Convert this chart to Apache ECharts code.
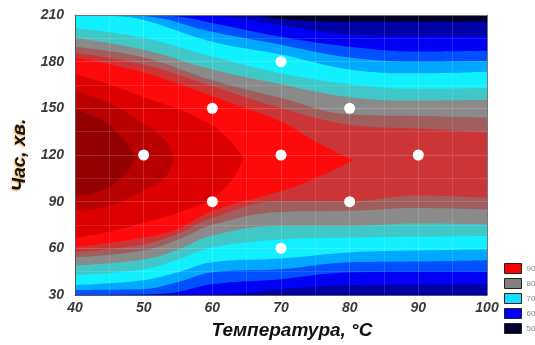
<!DOCTYPE html>
<html>
<head>
<meta charset="utf-8">
<script src="https://cdn.jsdelivr.net/npm/echarts@6/dist/echarts.min.js"></script>
<style>
  html, body { margin: 0; padding: 0; background: #fff; }
</style>
</head>
<body>
<div id="main" style="width: 535px;height: 345px"></div>
<script>
// contour boundaries, [temperature, time]
// upper side of the ridge (outer -> inner)
var top01 = [[40,210],[60,210],[65,210],[70,207.5],[80,205.6],[90,205.6],[100,205.6]];
var top12 = [[40,210],[50,210],[60,209.4],[70,203.6],[80,197.3],[90,196.5],[100,196.5]];
var top23 = [[40,210],[50,210],[55,209],[60,204.9],[70,196],[80,189.6],[90,186.5],[100,187]];
var top34 = [[40,210],[45,210],[50,209.4],[60,199.2],[70,190.9],[80,182.7],[90,180],[100,180.5]];
var top45 = [[40,210],[45,209.5],[50,206.8],[60,192.8],[70,184.6],[80,175],[90,172.5],[100,173.5]];
var top56 = [[40,201.7],[50,195.4],[60,183.3],[70,172.5],[80,165.5],[90,162.5],[100,163]];
var top67 = [[40,195.4],[50,187.7],[60,175],[70,165.5],[80,157.2],[90,155],[100,155.5]];
var top78 = [[40,189.6],[50,182.7],[60,168],[70,156.6],[80,146],[90,145],[100,144]];
var top89 = [[40,185.8],[50,178.2],[60,164.2],[70,150.2],[80,139.5],[90,137],[100,134.5]];
var top910 = [[40,182.7],[50,173.1],[60,157.8],[70,141.3],[75,128.6],[80.5,116.5]];
var top1011 = [[40,171.8],[45,165.5],[50,157.2],[55,149.6],[60,138.8],[63,127.3],[64.5,117.8]];
var top1112 = [[40,161],[45,153.4],[50,140],[53,130.5],[54.5,117.8]];
var top1213 = [[40,149.6],[44,142],[47,130.5],[49,118.4]];
// lower side of the ridge (inner -> outer)
var bot1213 = [[40,93.6],[44,97.4],[47,106.3],[49,118.4]];
var bot1112 = [[40,84.1],[45,87.2],[50,97.4],[53,105.1],[54.5,117.8]];
var bot1011 = [[40,66.9],[45,70.7],[50,76.4],[55,82.8],[60,92.3],[63,105.1],[64.5,117.8]];
var bot910 = [[40,60.5],[50,66.9],[55,72.5],[60,84.1],[70,96.8],[75,105.1],[80.5,116.5]];
var bot89 = [[40,57.4],[50,62.4],[55,69.5],[60,79.6],[70,90.4],[80,90.4],[90,94],[100,92.5]];
var bot78 = [[40,54.2],[50,58.6],[55,65.6],[60,75.2],[70,83.4],[80,84.1],[90,86],[100,85]];
var bot67 = [[40,49.1],[50,52.9],[55,59.3],[60,68.2],[70,74.5],[80,74.5],[90,76],[100,75.5]];
var bot56 = [[40,42.7],[50,46.5],[55,52.9],[60,60.5],[70,65.6],[80,66.9],[90,67.5],[100,68]];
var bot45 = [[40,36.4],[50,39.5],[55,44.6],[60,51],[70,53.5],[80,57.4],[90,58.6],[100,59.3]];
var bot34 = [[40,33.2],[50,33.8],[55,38.3],[60,44.6],[70,46.5],[80,51],[90,51.5],[100,52.3]];
var bot23 = [[40,30],[50,30.5],[55,32],[60,37],[70,40.2],[80,44.6],[90,45],[100,45]];
var bot12 = [[40,30],[60,30],[70,33.8],[80,36.4],[90,36.8],[100,37]];

// experiment points
var designPoints = [[50,120],[60,90],[60,150],[70,60],[70,120],[70,180],[80,90],[80,150],[90,120]];

var legendNames = ['90', '80', '70', '60', '50'];

var bandColors = ['#00002a','#0000a8','#0000f5','#0050ff','#00a8ff','#10f0ff','#40c8c8',
  '#8a8a8a','#a05e5e','#cc3535','#ff0a0a','#dc0000','#b80000','#940000'];
var legendColors = ['#ff0000', '#808080', '#12dcff', '#0000ff', '#000033'];

var upperCurves = [top01, top12, top23, top34, top45, top56, top67, top78, top89, top910, top1011, top1112, top1213];
var lowerCurves = [bot1213, bot1112, bot1011, bot910, bot89, bot78, bot67, bot56, bot45, bot34, bot23, bot12];

var chartDom = document.getElementById('main');
var myChart = echarts.init(chartDom);

function band(data, color) {
  return {
    type: 'line',
    data: data,
    smooth: 0.4,
    symbol: 'none',
    silent: true,
    lineStyle: { width: 0 },
    areaStyle: { color: color, opacity: 1, origin: 'start' },
    z: 1
  };
}

var series = [];
// paint from the top down: fill under each upper boundary with the inner colour
for (var i = 0; i < upperCurves.length; i++) {
  series.push(band(upperCurves[i], bandColors[i + 1]));
}
// then fill under each lower boundary with the outer colour
for (var j = 0; j < lowerCurves.length; j++) {
  series.push(band(lowerCurves[j], bandColors[12 - j]));
}
series.push({
  type: 'scatter',
  data: designPoints,
  symbolSize: 11,
  itemStyle: { color: '#ffffff', opacity: 1 },
  silent: true,
  z: 20
});
for (var k = 0; k < legendNames.length; k++) {
  series.push({
    name: legendNames[k],
    type: 'scatter',
    data: [],
    itemStyle: { color: legendColors[k], opacity: 1 }
  });
}

var labelFont = {
  fontFamily: 'Liberation Sans',
  fontSize: 14,
  fontWeight: 'bold',
  fontStyle: 'italic',
  color: '#3a3a3a'
};

var option = {
  animation: false,
  grid: {
    left: 75, top: 15, width: 412, height: 284,
    show: true, backgroundColor: bandColors[0], borderWidth: 0
  },
  legend: {
    data: legendNames,
    orient: 'vertical',
    left: 499,
    top: 258,
    icon: 'rect',
    itemWidth: 17,
    itemHeight: 10,
    itemGap: 4,
    selectedMode: false,
    itemStyle: { borderColor: '#222', borderWidth: 1, opacity: 1 },
    textStyle: { fontSize: 8, color: '#888', fontFamily: 'Liberation Sans' }
  },
  xAxis: [{
    type: 'value',
    min: 40, max: 100, interval: 10,
    z: 10,
    name: 'Температура, °C',
    nameLocation: 'middle',
    nameGap: 26,
    nameTextStyle: {
      fontFamily: 'Liberation Sans', fontSize: 19, fontWeight: 'bold', fontStyle: 'italic',
      color: '#111', padding: [0, 0, 0, 22]
    },
    axisLine: { show: true, lineStyle: { color: '#555', width: 1 } },
    axisTick: { show: false },
    axisLabel: Object.assign({ margin: 6 }, labelFont),
    splitLine: { show: true, lineStyle: { color: 'rgba(255,255,255,0.16)', width: 1 } },
    minorTick: { show: false, splitNumber: 2 },
    minorSplitLine: { show: true, lineStyle: { color: 'rgba(255,255,255,0.12)', width: 1 } }
  }, {
    type: 'value',
    position: 'top',
    min: 40, max: 100, interval: 10,
    z: 10,
    axisLine: { show: true, lineStyle: { color: '#777', width: 1 } },
    axisTick: { show: false },
    axisLabel: { show: false },
    splitLine: { show: false }
  }],
  yAxis: [{
    type: 'value',
    min: 30, max: 210, interval: 30,
    z: 10,
    name: 'Час, хв.',
    nameLocation: 'middle',
    nameGap: 37,
    nameTextStyle: {
      fontFamily: 'Liberation Sans', fontSize: 19, fontWeight: 'bold', fontStyle: 'italic',
      color: '#111',
      textShadowColor: 'rgba(240,150,30,0.9)', textShadowBlur: 2, textShadowOffsetX: -1, textShadowOffsetY: 1
    },
    axisLine: { show: true, lineStyle: { color: '#555', width: 1 } },
    axisTick: { show: false },
    axisLabel: Object.assign({ margin: 11 }, labelFont),
    splitLine: { show: true, lineStyle: { color: 'rgba(255,255,255,0.16)', width: 1 } },
    minorTick: { show: false, splitNumber: 2 },
    minorSplitLine: { show: true, lineStyle: { color: 'rgba(255,255,255,0.12)', width: 1 } }
  }, {
    type: 'value',
    position: 'right',
    min: 30, max: 210, interval: 30,
    z: 10,
    axisLine: { show: true, lineStyle: { color: '#777', width: 1 } },
    axisTick: { show: false },
    axisLabel: { show: false },
    splitLine: { show: false }
  }],
  series: series
};

option && myChart.setOption(option);
</script>
</body>
</html>
